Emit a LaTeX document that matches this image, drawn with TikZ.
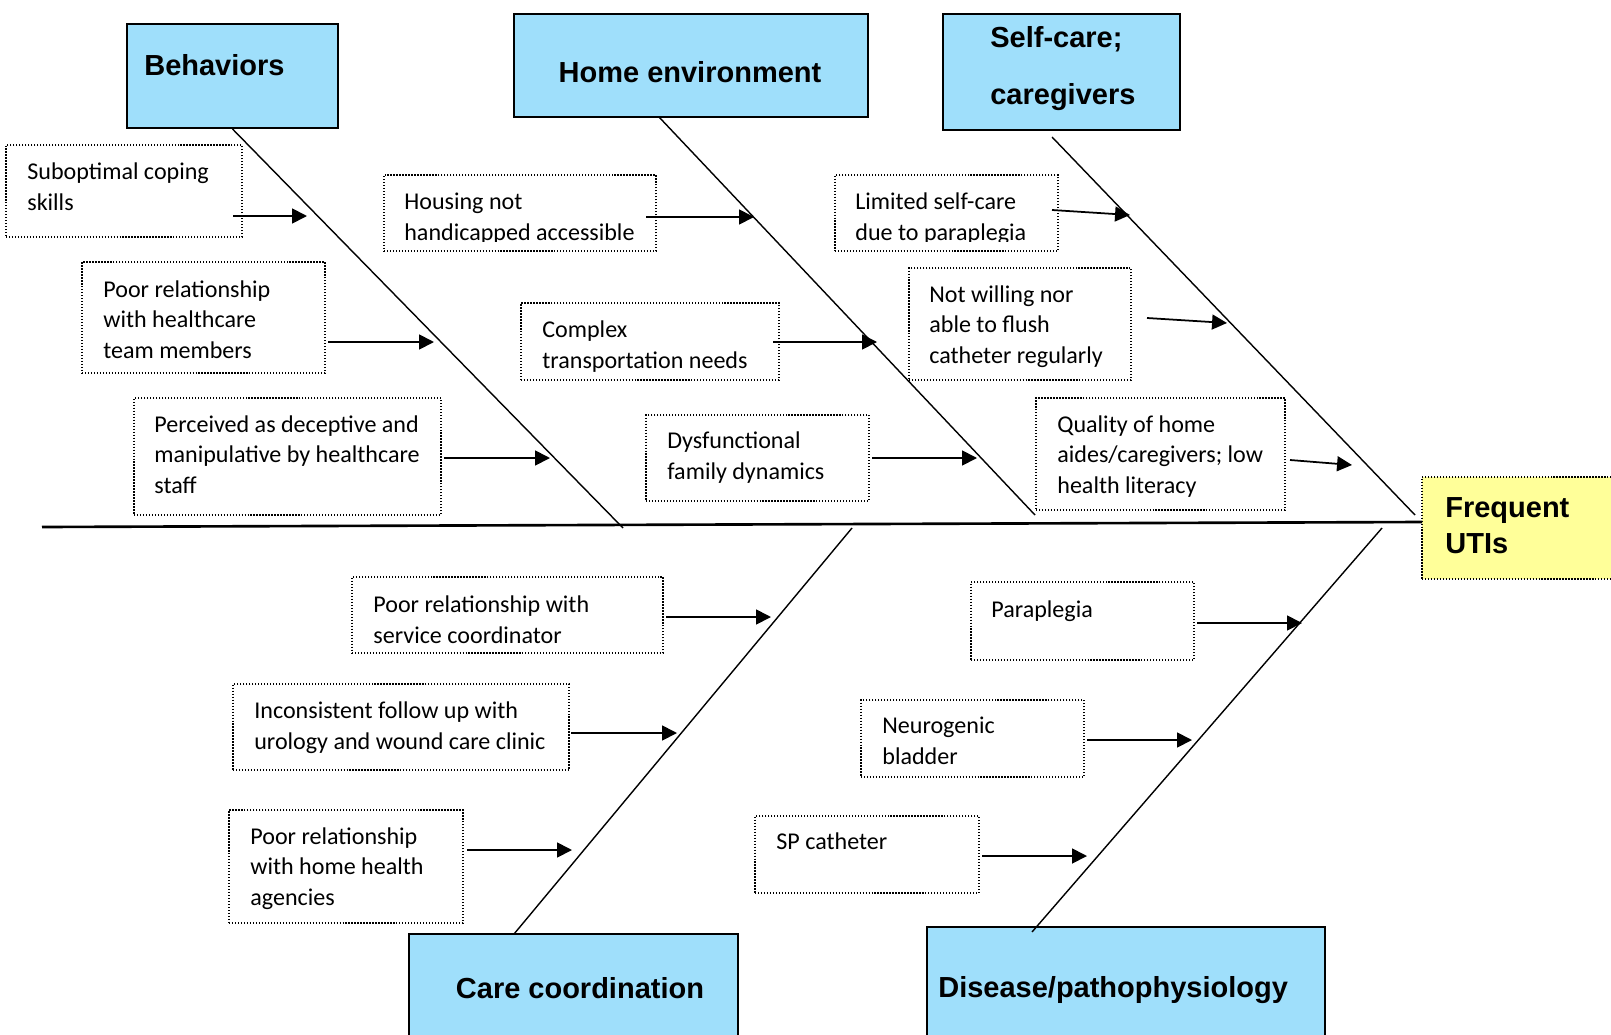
\documentclass[tikz,border=0pt]{standalone}
\usepackage{fontspec}
\setmainfont{Carlito}
\newfontfamily\headfont{Liberation Sans}
\usetikzlibrary{arrows.meta, fit}
\definecolor{cblue}{HTML}{9FDFFB}
\definecolor{cyellow}{HTML}{FFFF99}
\tikzset{
  head/.style={draw=black, fill=cblue, line width=1.1pt, inner sep=0pt},
  cause/.style={draw=black, line width=0.7pt, dash pattern=on 0.7pt off 1pt, inner sep=0pt},
  % placed at the baseline of the last line
  ctext/.style={anchor=base west, inner sep=0pt, align=left,
    font=\fontsize{13.7}{17.5}\selectfont},
  htext/.style={inner sep=0pt, font=\headfont\bfseries\fontsize{16.5}{20}\selectfont},
  spine/.style={line width=1.5pt},
  bone/.style={line width=0.8pt},
  arrow/.style={-{Triangle[length=8.5pt, width=8.5pt]}, line width=1pt},
}

\begin{document}
\begin{tikzpicture}[x=0.02cm, y=-0.02cm]
  \useasboundingbox (0,0) rectangle (1611,1034);
  \clip (0,0) rectangle (1611,1034);

  % category boxes
  \node[head, fit={(127,24) (338,128)}] (behav) {};
  \node[head, fit={(514,14) (868,117)}] (homeenv) {};
  \node[head, fit={(943,14) (1180,130)}] (selfcare) {};
  \node[head, fit={(409,934) (738,1050)}] (carecoord) {};
  \node[head, fit={(927,927) (1325,1050)}] (disease) {};
  \node[cause, fill=cyellow, fit={(1422,477) (1630,579)}] (utis) {};

  \node[htext, anchor=base west] (behavlbl) at (144,75) {Behaviors};
  \node[htext, anchor=base] (homelbl) at (690,83) {Home environment};
  \node[htext, anchor=base west] (selflbla) at (990,48) {Self-care;};
  \node[htext, anchor=base west] (selflblb) at (990,105) {caregivers};
  \node[htext, anchor=base] (carelbl) at (580,998) {Care coordination};
  \node[htext, anchor=base west] (dislbl) at (938,997) {Disease/pathophysiology};
  \node[htext, anchor=base west] (utislbla) at (1445,517) {Frequent};
  \node[htext, anchor=base west] (utislblb) at (1445,553) {UTIs};

  % spine and bones
  \coordinate (tail) at (42,527);
  \coordinate (head) at (1422,522);
  \draw[spine] (tail) -- (head);
  \coordinate (bb) at (623,528);
  \coordinate (ht) at (659,117);
  \coordinate (hb) at (1035,515);
  \coordinate (st) at (1052,137);
  \coordinate (sb) at (1415,515);
  \coordinate (ct) at (852,528);
  \coordinate (cb) at (514,934);
  \coordinate (dt) at (1382,528);
  \coordinate (db) at (1032,932);
  \draw[bone] (behav.south) -- (bb);
  \draw[bone] (ht) -- (hb);
  \draw[bone] (st) -- (sb);
  \draw[bone] (ct) -- (cb);
  \draw[bone] (dt) -- (db);

  % cause boxes
  \foreach \i/\l/\t/\r/\b in {1/6/145/242/237, 2/82/262/325/373, 3/134/398/441/515,
      4/384/175/656/251, 5/521/303/779/380, 6/646/415/869/501,
      7/835/175/1058/251, 8/909/268/1131/380, 9/1036/398/1285/510,
      10/352/577/663/653, 11/233/684/569/770, 12/229/810/463/923,
      13/971/582/1194/660, 14/861/700/1084/777, 15/755/816/979/893}
    \node[cause, fit={(\l,\t) (\r,\b)}] (cb\i) {};

  \node[ctext] (ct1) at (27,210) {Suboptimal coping\\skills};
  \node[ctext] (ct2) at (103,358.5) {Poor relationship\\with healthcare\\team members};
  \node[ctext] (ct3) at (154,493.5) {Perceived as deceptive and\\manipulative by healthcare\\staff};
  \begin{scope}
    \clip (380,170) rectangle (1062,241.5);
    \node[ctext] (ct4) at (404,240) {Housing not\\handicapped accessible};
    \node[ctext] (ct7) at (855,240) {Limited self-care\\due to paraplegia};
  \end{scope}
  \node[ctext] (ct5) at (542,368) {Complex\\transportation needs};
  \node[ctext] (ct6) at (667,479) {Dysfunctional\\family dynamics};
  \node[ctext] (ct8) at (929,363.5) {Not willing nor\\able to flush\\catheter regularly};
  \node[ctext] (ct9) at (1057,493.5) {Quality of home\\aides/caregivers; low\\health literacy};
  \node[ctext] (ct10) at (373,643) {Poor relationship with\\service coordinator};
  \node[ctext] (ct11) at (254,749) {Inconsistent follow up with\\urology and wound care clinic};
  \node[ctext] (ct12) at (250,905.5) {Poor relationship\\with home health\\agencies};
  \node[ctext] (ct13) at (991,617) {Paraplegia};
  \node[ctext] (ct14) at (882,764) {Neurogenic\\bladder};
  \node[ctext] (ct15) at (776,849) {SP catheter};

  % arrows onto the bones
  \foreach \i/\xa/\ya/\xb/\yb in {1/233/216/307/216, 2/328/342/434/342, 3/444/458/550/458,
      4/646/217/754/217, 5/773/342/877/342, 6/872/458/977/458,
      7/1052/210/1130/215, 8/1147/318/1227/323, 9/1290/460/1352/465,
      10/666/617/771/617, 11/571/733/677/733, 12/467/850/572/850,
      13/1197/623/1302/623, 14/1087/740/1192/740, 15/982/856/1087/856} {
    \coordinate (s\i) at (\xa,\ya);
    \coordinate (e\i) at (\xb,\yb);
    \draw[arrow] (s\i) -- (e\i);
  }
\end{tikzpicture}
\end{document}
